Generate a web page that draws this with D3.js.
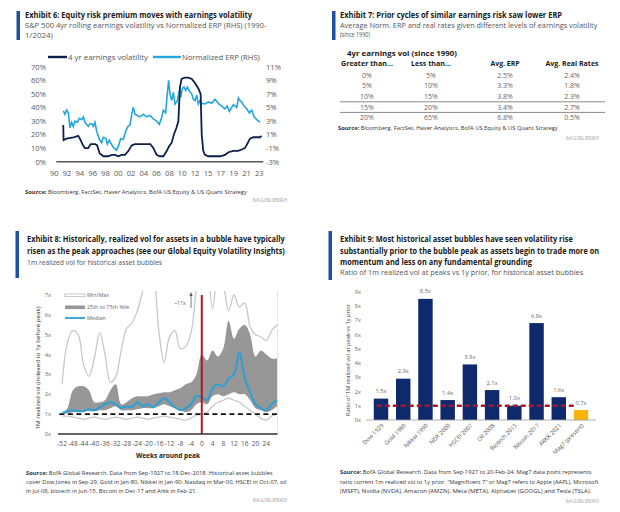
<!DOCTYPE html>
<html><head><meta charset="utf-8">
<script src="https://cdn.jsdelivr.net/npm/d3@7"></script>
<style>body{margin:0;background:#fff}svg{display:block}text{font-family:"Open Sans","Noto Sans",sans-serif}</style>
</head><body><svg id="c" width="620" height="512"></svg>
<script>
// ---------- DATA ----------
// Exhibit 6 (year, percent)
const earningsVol = [[1991.4,27],[1991.45,16],[1991.9,17],[1993.0,18],[1993.75,19],[1994.0,17],[1994.5,12],[1994.8,10],[1995.3,10],[1995.7,13],[1996.4,13],[1996.7,12],[1997.1,6],[1997.7,4],[1998.4,4],[1999.0,5],[1999.5,5],[2000.0,4],[2000.5,5],[2001.05,5],[2001.6,8],[2002.1,12],[2002.6,13],[2004.4,13],[2005.0,13],[2005.5,10],[2006.0,5],[2006.5,4],[2007.05,4],[2007.6,8],[2007.9,11],[2008.35,14],[2008.7,20],[2009.1,25],[2009.4,30],[2009.65,55],[2009.9,61],[2010.4,62],[2011.0,62],[2011.5,61],[2012.0,58],[2012.77,54],[2013.3,50],[2013.55,20],[2013.9,8],[2014.3,5],[2015.05,4],[2016.9,4],[2017.65,5],[2018.2,7],[2018.95,8],[2019.7,8],[2020.25,9],[2020.75,10],[2021.0,12],[2021.55,17],[2022.05,18],[2023.1,18],[2023.35,19]];
const normERP = [[1991.41,4.5],[1991.67,4.0],[1991.93,4.6],[1992.19,4.2],[1992.45,2.0],[1992.71,2.8],[1992.97,2.2],[1993.23,3.0],[1993.6,2.8],[1993.91,3.4],[1994.28,3.2],[1994.54,3.6],[1994.8,2.8],[1995.32,2.2],[1995.58,2.6],[1995.84,2.6],[1996.1,2.2],[1996.36,2.8],[1996.62,1.5],[1997.04,0.3],[1997.4,-0.2],[1997.66,0.6],[1998.08,0.4],[1998.29,-0.4],[1998.6,0.2],[1998.97,-0.5],[1999.33,-1.0],[1999.75,-1.3],[2000.06,-0.6],[2000.38,0.4],[2000.79,0.3],[2001.21,1.6],[2001.52,2.2],[2001.84,2.4],[2002.15,4.2],[2002.36,5.0],[2002.62,4.0],[2002.98,3.8],[2003.4,3.6],[2003.92,4.0],[2004.44,3.6],[2004.96,3.8],[2005.48,3.3],[2006.0,3.0],[2006.42,2.5],[2006.79,3.5],[2007.05,4.6],[2007.41,4.2],[2007.67,7.0],[2007.88,9.0],[2008.09,7.0],[2008.35,6.0],[2008.61,7.2],[2008.87,5.5],[2009.24,6.0],[2009.55,7.5],[2009.76,6.5],[2010.02,7.8],[2010.28,8.0],[2010.54,7.5],[2010.8,8.0],[2011.12,7.4],[2011.48,7.0],[2011.74,6.2],[2012.0,6.0],[2012.38,6.8],[2012.77,5.5],[2013.15,6.0],[2013.54,5.6],[2014.31,5.5],[2015.05,5.8],[2015.57,5.6],[2016.09,6.2],[2016.61,5.6],[2017.13,5.2],[2017.65,4.8],[2018.01,5.2],[2018.33,4.4],[2018.7,5.0],[2018.96,5.4],[2019.48,5.0],[2019.74,6.4],[2020.0,6.0],[2020.26,5.8],[2020.62,5.2],[2021.04,4.8],[2021.45,4.2],[2021.82,4.6],[2022.18,3.6],[2022.6,3.2],[2022.86,3.0],[2023.12,2.8]];
const ex6YearTicks = [1990,1992,1994,1996,1998,2000,2002,2004,2006,2008,2010,2012,2015,2017,2019,2021,2023];
const ex6LeftTicks = [0,10,20,30,40,50,60,70];
const ex6RightTicks = [-3,-1,1,3,5,7,9,11];

// Exhibit 7 table
const greaterThan = ["0%","5%","10%","15%","20%"];
const lessThan = ["5%","10%","15%","20%","65%"];
const avgERP = ["2.5%","3.3%","3.8%","3.4%","6.8%"];
const avgRealRates = ["2.4%","1.8%","2.3%","2.7%","0.5%"];

// Exhibit 8 (weeks around peak)
const weeks = d3.range(-52, 29, 2);
const volMax = [2.5,4.6,5.2,5.0,3.5,2.9,3.8,5.1,4.0,2.6,2.9,4.2,5.3,5.6,6.2,7.2,8.5,8.0,5.2,3.6,4.9,5.2,4.3,4.4,5.1,7.5,11,9,6.3,8,7.5,6.2,7.0,6.4,6.6,5.4,5.0,4.9,4.7,5.2,5.5];
const volMin = [0.9,0.9,0.85,0.8,0.75,0.8,0.85,0.8,0.75,0.8,0.85,0.8,0.75,0.8,0.85,0.8,0.75,0.8,0.85,0.9,0.85,0.8,0.75,0.7,0.8,0.95,1.0,1.1,1.4,1.6,1.7,1.8,1.7,1.6,1.4,1.2,1.0,0.8,0.7,0.9,1.0];
const vol75 = [1.0,1.3,2.2,2.4,2.4,2.2,1.6,1.6,1.7,2.2,2.5,1.5,1.6,1.8,1.9,1.9,1.9,2.0,2.05,2.1,2.1,2.2,2.3,2.5,2.6,3.0,4.0,3.7,4.2,3.9,4.3,5.7,4.8,5.3,5.5,5.0,3.9,4.2,4.0,3.8,3.8];
const vol25 = [1.0,1.05,1.1,1.1,1.15,1.15,1.15,1.2,1.2,1.3,1.4,1.2,1.2,1.2,1.25,1.3,1.3,1.3,1.4,1.5,1.4,1.3,1.2,1.1,1.2,1.5,1.6,1.5,1.9,2.0,1.9,2.0,2.1,2.0,2.0,1.7,1.3,1.2,1.1,1.2,1.4];
const volMedian = [1.05,1.15,1.2,1.15,1.15,1.25,1.2,1.35,1.5,1.6,1.5,1.3,1.4,1.35,1.6,1.4,1.5,1.35,1.6,1.8,1.6,1.35,1.2,1.3,1.5,1.9,1.85,1.7,2.3,2.5,2.4,2.8,3.0,4.1,2.8,2.1,1.5,1.3,1.2,1.5,1.7];
const weekTicks = d3.range(-52, 25, 4);

// Exhibit 9
const bubbles = ["Dow 1929","Gold 1980","Nikkei 1990","NDX 2000","HSCEI 2007","Oil 2008","Biotech 2015","Bitcoin 2017","ARKK 2021","Mag7 (present)"];
const volRatio = [1.5,2.9,8.5,1.4,3.9,2.1,1.0,6.8,1.6,0.7];

// ---------- HELPERS ----------
const svg = d3.select("#c");
svg.append("rect").attr("width",620).attr("height",512).attr("fill","#fff");
// text fitted to a target width by horizontal scaling (narrow font look)
function fit(t,x,y,w,rot){
  const L=t.node().getComputedTextLength();
  const sx=(w&&L>0)?w/L:1;
  t.attr("x",0).attr("y",0).attr("transform",`translate(${x},${y})${rot?` rotate(${rot})`:""} scale(${sx},1)`);
}
function T(g,x,y,s,o={}){
  const t=g.append("text").text(s)
    .attr("font-size",o.fs||8).attr("fill",o.fill||"#1a1a1a")
    .attr("font-weight",o.fw||"normal").attr("text-anchor",o.anchor||"start");
  if(o.w) fit(t,x,y,o.w,o.rot); else t.attr("x",x).attr("y",y);
  return t;
}
function Src(g,x,y,rest,w){
  const t=g.append("text").attr("font-size",5.8).attr("fill","#333");
  t.append("tspan").attr("font-weight","bold").text("Source: ");
  t.append("tspan").text(rest);
  fit(t,x,y,w);
}
function Bar(g,x,y1,y2){g.append("rect").attr("x",x).attr("y",y1).attr("width",3.5).attr("height",y2-y1).attr("fill","#1f4f9f");}
const BLUE="#24a6dc", NAVY="#0c1f4d";

// ---------- EXHIBIT 6 ----------
{
const g=svg.append("g");
Bar(g,16.5,11,40);
T(g,25,18,"Exhibit 6: Equity risk premium moves with earnings volatility",{fw:"bold",fs:8.2,w:227});
T(g,25,28,"S&P 500 4yr rolling earnings volatility vs Normalized ERP (RHS) (1990-",{fs:7.8,fill:"#555",w:242});
T(g,25,38,"1/2024)",{fs:7.8,fill:"#555",w:28});
const x=d3.scaleLinear().domain([1990,2012,2015,2023]).range([54.3,195,208,259.3]);
const yL=d3.scaleLinear().domain([0,70]).range([161.7,66.7]);
const yR=d3.scaleLinear().domain([-3,11]).range([161.7,66.7]);
g.selectAll(".yl").data(ex6LeftTicks).join("text").attr("x",46).attr("y",d=>yL(d)+2.8)
  .attr("text-anchor","end").attr("font-size",7.6).attr("fill","#595959").text(d=>d+"%");
g.selectAll(".yr").data(ex6RightTicks).join("text").attr("x",266).attr("y",d=>yR(d)+2.8)
  .attr("text-anchor","start").attr("font-size",7.6).attr("fill","#595959").text(d=>d+"%");
g.selectAll(".xl").data(ex6YearTicks).join("text").attr("x",d=>x(d)).attr("y",yL(0)+14)
  .attr("text-anchor","middle").attr("font-size",7.6).attr("fill","#595959").text(d=>String(d).slice(2));
g.append("line").attr("x1",x(1990)+2).attr("x2",x(2023)+4).attr("y1",yL(0)).attr("y2",yL(0)).attr("stroke","#555").attr("stroke-width",1.4);
g.append("path").datum(normERP).attr("fill","none").attr("stroke",BLUE).attr("stroke-width",1.6)
  .attr("d",d3.line().x(d=>x(d[0])).y(d=>yR(d[1])));
g.append("path").datum(earningsVol).attr("fill","none").attr("stroke",NAVY).attr("stroke-width",1.8)
  .attr("d",d3.line().x(d=>x(d[0])).y(d=>yL(d[1])));
g.append("line").attr("x1",48).attr("x2",67).attr("y1",57).attr("y2",57).attr("stroke",NAVY).attr("stroke-width",2.4);
T(g,68,59.6,"4 yr earnings volatility",{fs:7.8,fill:"#555",w:80});
g.append("line").attr("x1",153).attr("x2",181).attr("y1",57).attr("y2",57).attr("stroke",BLUE).attr("stroke-width",2.4);
T(g,182,59.6,"Normalized ERP (RHS)",{fs:7.8,fill:"#555",w:78});
Src(g,25,193.5,"Bloomberg, FactSet, Haver Analytics, BofA US Equity & US Quant Strategy",222);
T(g,287,202,"BofA GLOBAL RESEARCH",{fs:5.4,fill:"#999",anchor:"end",w:34});
}

// ---------- EXHIBIT 7 ----------
{
const g=svg.append("g");
Bar(g,332,11,40);
T(g,340,18,"Exhibit 7: Prior cycles of similar earnings risk saw lower ERP",{fw:"bold",fs:8.2,w:222});
T(g,340,27.5,"Average Norm. ERP and real rates given different levels of earnings volatility",{fs:7.8,fill:"#555",w:258});
T(g,340,37,"(since 1990)",{fs:7.8,fill:"#555",w:30});
const colX=d3.scaleOrdinal().domain(["gt","lt","erp","rr"]).range([367,431,505,572]);
const row=d3.scaleBand().domain(d3.range(greaterThan.length)).range([70,123]);
T(g,402,56,"4yr earnings vol (since 1990)",{fw:"bold",fs:7.8,anchor:"middle",w:110});
T(g,colX("gt"),65.5,"Greater than...",{fw:"bold",fs:7.8,anchor:"middle",w:52});
T(g,colX("lt"),65.5,"Less than...",{fw:"bold",fs:7.8,anchor:"middle",w:40});
T(g,colX("erp"),65.5,"Avg. ERP",{fw:"bold",fs:7.8,anchor:"middle",w:29});
T(g,colX("rr"),65.5,"Avg. Real Rates",{fw:"bold",fs:7.8,anchor:"middle",w:53});
const cols=[["gt",greaterThan],["lt",lessThan],["erp",avgERP],["rr",avgRealRates]];
cols.forEach(([k,arr])=>{
  g.selectAll(".c"+k).data(arr).join("text").attr("x",colX(k)).attr("y",(d,i)=>row(i)+row.bandwidth()/2+2.5)
   .attr("text-anchor","middle").attr("font-size",7).attr("fill","#666").text(d=>d);
});
[3,4].forEach(i=>g.append("line").attr("x1",340).attr("x2",605).attr("y1",row(i)).attr("y2",row(i)).attr("stroke","#8a8a8a").attr("stroke-width",1));
Src(g,338,130,"Bloomberg, FactSet, Haver Analytics, BofA US Equity & US Quant Strategy",220);
T(g,599,140,"BofA GLOBAL RESEARCH",{fs:5.4,fill:"#999",anchor:"end",w:33});
}

// ---------- EXHIBIT 8 ----------
{
const g=svg.append("g");
Bar(g,15.5,231,278);
T(g,27,242,"Exhibit 8: Historically, realized vol for assets in a bubble have typically",{fw:"bold",fs:8.2,w:258});
T(g,27,254,"risen as the peak approaches (see our Global Equity Volatility Insights)",{fw:"bold",fs:8.2,w:258});
T(g,27,264.5,"1m realized vol for historical asset bubbles",{fs:7.4,fill:"#555",w:135});
const x=d3.scaleLinear().domain([-53,28]).range([59.4,277]);
const y=d3.scaleLinear().domain([0,7]).range([434,295]);
svg.append("defs").append("clipPath").attr("id","cp8").append("rect").attr("x",58).attr("y",291).attr("width",220).attr("height",145);
const p=g.append("g").attr("clip-path","url(#cp8)");
const rows=weeks.map((w,i)=>({w,mx:volMax[i],mn:volMin[i],p75:vol75[i],p25:vol25[i],md:volMedian[i]}));
const cv=d3.curveCatmullRom.alpha(0.5);
p.append("path").datum(rows).attr("fill","#979797").attr("d",d3.area().curve(cv).x(d=>x(d.w)).y0(d=>y(d.p25)).y1(d=>y(d.p75)));
p.append("path").datum(rows).attr("fill","none").attr("stroke","#c8c8c8").attr("stroke-width",1.3).attr("d",d3.line().curve(cv).x(d=>x(d.w)).y(d=>y(d.mx)));
p.append("path").datum(rows).attr("fill","none").attr("stroke","#c8c8c8").attr("stroke-width",1.3).attr("d",d3.line().curve(cv).x(d=>x(d.w)).y(d=>y(d.mn)));
p.append("line").attr("x1",x(-53)).attr("x2",x(28)).attr("y1",y(1)).attr("y2",y(1)).attr("stroke","#111").attr("stroke-width",1.8).attr("stroke-dasharray","5,3.5");
p.append("path").datum(rows).attr("fill","none").attr("stroke","#2aa0d4").attr("stroke-width",2).attr("d",d3.line().curve(cv).x(d=>x(d.w)).y(d=>y(d.md)));
g.append("line").attr("x1",x(0)).attr("x2",x(0)).attr("y1",y(7)).attr("y2",y(0)).attr("stroke","#b3191f").attr("stroke-width",2);
g.append("line").attr("x1",277.5).attr("x2",277.5).attr("y1",291).attr("y2",434).attr("stroke","#ddd").attr("stroke-width",0.8);
g.append("line").attr("x1",58).attr("x2",277.5).attr("y1",434).attr("y2",434).attr("stroke","#333").attr("stroke-width",1.3);
g.selectAll(".yt").data(d3.range(0,8)).join("text").attr("x",51).attr("y",d=>y(d)+2)
  .attr("text-anchor","end").attr("font-size",5.8).attr("fill","#666").text(d=>d+"x");
g.selectAll(".xt").data(weekTicks).join("text").attr("x",d=>x(d)).attr("y",446)
  .attr("text-anchor","middle").attr("font-size",6.6).attr("fill","#555").text(d=>String(d));
T(g,168,458,"Weeks around peak",{fw:"bold",fs:7,anchor:"middle",fill:"#222",w:64});
T(g,40,368,"1M realized vol (indexed to 1y before peak)",{fs:5.4,anchor:"middle",fill:"#333",w:123,rot:-90});
T(g,x(-6),305,"~11x",{fs:5,fill:"#555",anchor:"end"});
g.append("line").attr("x1",x(-4)).attr("x2",x(-4)).attr("y1",308).attr("y2",294).attr("stroke","#555").attr("stroke-width",0.8);
g.append("path").attr("d",`M${x(-4)-1.6},${296} L${x(-4)},${292} L${x(-4)+1.6},${296} Z`).attr("fill","#555");
g.append("rect").attr("x",65).attr("y",294).attr("width",20).attr("height",2.6).attr("fill","#fff").attr("stroke","#bbb").attr("stroke-width",0.8);
T(g,87,297,"Min/Max",{fs:5.4,fill:"#666"});
g.append("rect").attr("x",65).attr("y",305.5).attr("width",20).attr("height",3.6).attr("fill","#979797");
T(g,87,309,"25th to 75th %ile",{fs:5.4,fill:"#666"});
g.append("line").attr("x1",65).attr("x2",85).attr("y1",318).attr("y2",318).attr("stroke","#2aa0d4").attr("stroke-width",1.8);
T(g,87,320,"Median",{fs:5.4,fill:"#666"});
Src(g,26,474.5,"BofA Global Research. Data from Sep-1927 to 18-Dec-2018. Historical asset bubbles",247);
T(g,26,483.5,"cover Dow Jones in Sep-29, Gold in Jan-80, Nikkei in Jan-90, Nasdaq in Mar-00, HSCEI in Oct-07, oil",{fs:5.8,fill:"#333",w:261});
T(g,26,492.5,"in Jul-08, biotech in Jun-15, Bitcoin in Dec-17 and Arkk in Feb-21.",{fs:5.8,fill:"#333",w:171});
T(g,287,502,"BofA GLOBAL RESEARCH",{fs:5.4,fill:"#999",anchor:"end",w:34});
}

// ---------- EXHIBIT 9 ----------
{
const g=svg.append("g");
Bar(g,328.5,231,280);
T(g,340,242,"Exhibit 9: Most historical asset bubbles have seen volatility rise",{fw:"bold",fs:8.2,w:233});
T(g,340,253.5,"substantially prior to the bubble peak as assets begin to trade more on",{fw:"bold",fs:8.2,w:259});
T(g,340,264.5,"momentum and less on any fundamental grounding",{fw:"bold",fs:8.2,w:192});
T(g,340,275,"Ratio of 1m realized vol at peaks vs 1y prior, for historical asset bubbles",{fs:7.4,fill:"#555",w:243});
const x=d3.scaleBand().domain(bubbles).range([366,596]).paddingInner(0.35).paddingOuter(0.35);
const y=d3.scaleLinear().domain([0,9]).range([420,291.75]);
g.selectAll(".yt").data(d3.range(0,10)).join("text").attr("x",361).attr("y",d=>y(d)+2)
  .attr("text-anchor","end").attr("font-size",5.6).attr("fill","#666").text(d=>d+"x");
g.selectAll(".b").data(bubbles).join("rect").attr("x",d=>x(d)).attr("width",x.bandwidth())
  .attr("y",(d,i)=>y(volRatio[i])).attr("height",(d,i)=>y(0)-y(volRatio[i]))
  .attr("fill",(d,i)=>i===bubbles.length-1?"#f5b50a":"#0f2a6c");
g.selectAll(".bl").data(bubbles).join("text").attr("x",d=>x(d)+x.bandwidth()/2).attr("y",(d,i)=>y(volRatio[i])-5.5)
  .attr("text-anchor","middle").attr("font-size",5.8).attr("fill","#666").text((d,i)=>d3.format(".1f")(volRatio[i])+"x");
g.append("line").attr("x1",x(bubbles[0])+3).attr("x2",x(bubbles[bubbles.length-1])).attr("y1",y(1)).attr("y2",y(1))
  .attr("stroke","#a3192b").attr("stroke-width",2.4).attr("stroke-dasharray","5,3");
g.append("line").attr("x1",366).attr("x2",596).attr("y1",y(0)).attr("y2",y(0)).attr("stroke","#999").attr("stroke-width",0.8);
g.selectAll(".xl").data(bubbles).join("text").attr("font-size",5.8).attr("fill","#555").attr("text-anchor","end")
  .attr("transform",d=>`translate(${x(d)+x.bandwidth()/2+3},${y(0)+6}) rotate(-45)`).text(d=>d);
T(g,350,360,"Ratio of 1M realized vol at peak vs 1y prior",{fs:5.4,anchor:"middle",fill:"#444",w:112,rot:-90});
Src(g,340,473.5,"BofA Global Research. Data from Sep-1927 to 20-Feb-24. Mag7 data point represents",252);
T(g,340,483.5,"ratio current 1m realized vol to 1y prior. \u201cMagnificent 7\u201d or Mag7 refers to Apple (AAPL), Microsoft",{fs:5.8,fill:"#333",w:259});
T(g,340,493,"(MSFT), Nvidia (NVDA), Amazon (AMZN), Meta (META), Alphabet (GOOGL) and Tesla (TSLA).",{fs:5.8,fill:"#333",w:252});
T(g,599,502.5,"BofA GLOBAL RESEARCH",{fs:5.4,fill:"#999",anchor:"end",w:33});
}
</script></body></html>
